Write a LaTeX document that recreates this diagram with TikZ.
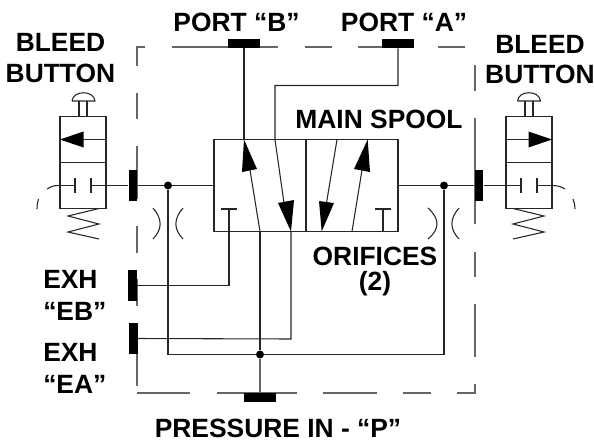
\documentclass[tikz,border=0pt]{standalone}
\usepackage{fontspec}
\setmainfont{Liberation Sans}
\tikzset{
  x=0.75pt,y=-0.75pt,
  ln/.style={line width=0.8pt,black!85},
  bd/.style={line width=0.85pt,black!60},
  hblk/.style={fill=black,draw=none,inner sep=0pt,minimum width=24pt,minimum height=6.75pt},
  vblk/.style={fill=black,draw=none,inner sep=0pt,minimum width=6.4pt,minimum height=23.25pt},
  dotn/.style={circle,fill=black,inner sep=0pt,minimum size=6pt},
  lab/.style={font=\bfseries\fontsize{19.8pt}{21pt}\selectfont,align=center,inner sep=0pt,text=black},
  arr/.style={fill=black,draw=none}
}
\begin{document}
\begin{tikzpicture}
\useasboundingbox (0,0) rectangle (594,440);
% border
\draw[bd] (137,66)--(137,47)--(145,47);
\draw[bd] (172,47)--(278,47) (305,47)--(332,47) (358,47)--(382,47) (438,47)--(465,47);
\draw[bd] (137,93)--(137,119) (137,146)--(137,199) (137,226)--(137,253);
\draw[bd] (137,279)--(137,306) (137,333)--(137,386);
\draw[bd] (137,393)--(190,393) (217,393)--(297,393) (323,393)--(377,393) (403,393)--(431,393);
\draw[bd] (457,393)--(475,393)--(475,384);
\draw[bd] (475,357)--(475,304) (475,277)--(475,252) (475,224)--(475,118) (475,91)--(475,65);
% blocks
\node[hblk] (pb) at (244,43.5) {};
\node[hblk] (pa) at (398,43.5) {};
\node[vblk] (bl) at (133,185.5) {};
\node[vblk] (br) at (479,185.5) {};
\node[vblk] (eb) at (132.7,285.5) {};
\node[vblk] (ea) at (133.3,338.5) {};
\node[hblk] (pp) at (260,397) {};
% main spool
\draw[ln] (214,139.5) rectangle (398,231.5);
\draw[line width=1pt,black!85] (306,139.5)--(306,231.5);
\coordinate (sl) at (214,185.5);
\coordinate (sr) at (398,185.5);
% dots
\node[dotn] (dl) at (168,185.5) {};
\node[dotn] (dr) at (444,185.5) {};
\node[dotn] (dp) at (260,354.5) {};
% arrows in spool
\draw[ln] (pb)--(244,140);
\fill[arr] (244,139.5)--(257,169)--(242,172)--cycle;
\draw[ln] (250,170)--(260,231.5);
\draw[ln] (pa.south)--(398,85.5)--(275,85.5)--(275,139.5)--(284,203);
\fill[arr] (291,231.5)--(294,200)--(278,203)--cycle;
\draw[ln] (337,139.5)--(326.5,203);
\fill[arr] (321.7,231.5)--(334,203)--(319,201)--cycle;
\fill[arr] (367.7,139.5)--(370,172)--(354,169)--cycle;
\draw[ln] (362,170)--(352,231.5);
% T exhausts
\draw[ln] (221,209)--(237,209) (229,209)--(229,285.5)--(eb.east);
\draw[ln] (375,209)--(391,209) (383,209)--(383,231.5);
% lines below
\draw[ln] (260,231.5)--(dp);
\draw[bd] (dp)--(pp);
\draw[ln] (291,231.5)--(291,339)--(ea.east);
\draw[ln] (dl)--(168,354.5)--(dp)--(444,354.5)--(dr);
% horizontals
\draw[ln] (bl)--(dl)--(sl);
\draw[ln] (sr)--(dr)--(br);
% orifices
\draw[ln] (153,208) .. controls (162.5,219) and (162.5,229) .. (153,239);
\draw[ln] (183,208) .. controls (173.5,219) and (173.5,229) .. (183,239);
\draw[ln] (428,208) .. controls (440,219) and (440,229) .. (428,239);
\draw[ln] (459,208) .. controls (449.5,219) and (449.5,229) .. (459,239);
% left bleed
\draw[ln] (60,116.5) rectangle (106,208.5);
\draw[ln] (60,162.5)--(106,162.5);
\draw[ln] (83,139.5)--(106,139.5);
\fill[arr] (60,139.5)--(83.5,131.5)--(83.5,147.5)--cycle;
\draw[ln] (79,116.5)--(79,101) (87,116.5)--(87,101);
\draw[ln] (72,101)--(95,101) .. controls (94,90) and (73,90) .. (72,101);
\draw[ln] (58,185.5)--(75,185.5) (75,178)--(75,193) (91,178)--(91,193) (91,185.5)--(bl);
\draw[ln] (58,185.5) .. controls (53,185.5) and (50,187) .. (47,189);
\draw[ln] (37,209) .. controls (37,205) .. (38.5,199);
\draw[ln] (99,208.5)--(68,216)--(99,224)--(68,232)--(99,239);
% right bleed
\draw[ln] (506,116.5) rectangle (552,208.5);
\draw[ln] (506,162.5)--(552,162.5);
\draw[ln] (506,139.5)--(529,139.5);
\fill[arr] (552,139.5)--(528.5,131.5)--(528.5,147.5)--cycle;
\draw[ln] (525,116.5)--(525,101) (533,116.5)--(533,101);
\draw[ln] (517.5,101)--(540.5,101) .. controls (540,90) and (518,90) .. (517.5,101);
\draw[ln] (br)--(521,185.5) (521,178)--(521,193) (537,178)--(537,193) (537,185.5)--(552,185.5);
\draw[ln] (552,185.5) .. controls (557,185.5) and (561,186.5) .. (565,189);
\draw[ln] (573,199) .. controls (574.5,203) .. (575,209);
\draw[ln] (513,208.5)--(544,216)--(513,224)--(544,232)--(513,239);
% text
\node[lab] (t1) at (236.5,22.5) {PORT “B”};
\node[lab] (t2) at (404,22.5) {PORT “A”};
\node[lab] (t3) at (60.5,58) {BLEED\\[2pt]BUTTON};
\node[lab] (t4) at (540,59.5) {BLEED\\[1pt]BUTTON};
\node[lab] (t5) at (379,119) {MAIN SPOOL};
\node[lab] (t6) at (375,271.5) {ORIFICES\\[-2pt](2)};
\node[lab,align=left,anchor=west] (t7) at (43,295.5) {EXH\\[3pt]“EB”};
\node[lab,align=left,anchor=west] (t8) at (43,368) {EXH\\[3pt]“EA”};
\node[lab] (t9) at (278,428) {PRESSURE IN - “P”};
\end{tikzpicture}
\end{document}
